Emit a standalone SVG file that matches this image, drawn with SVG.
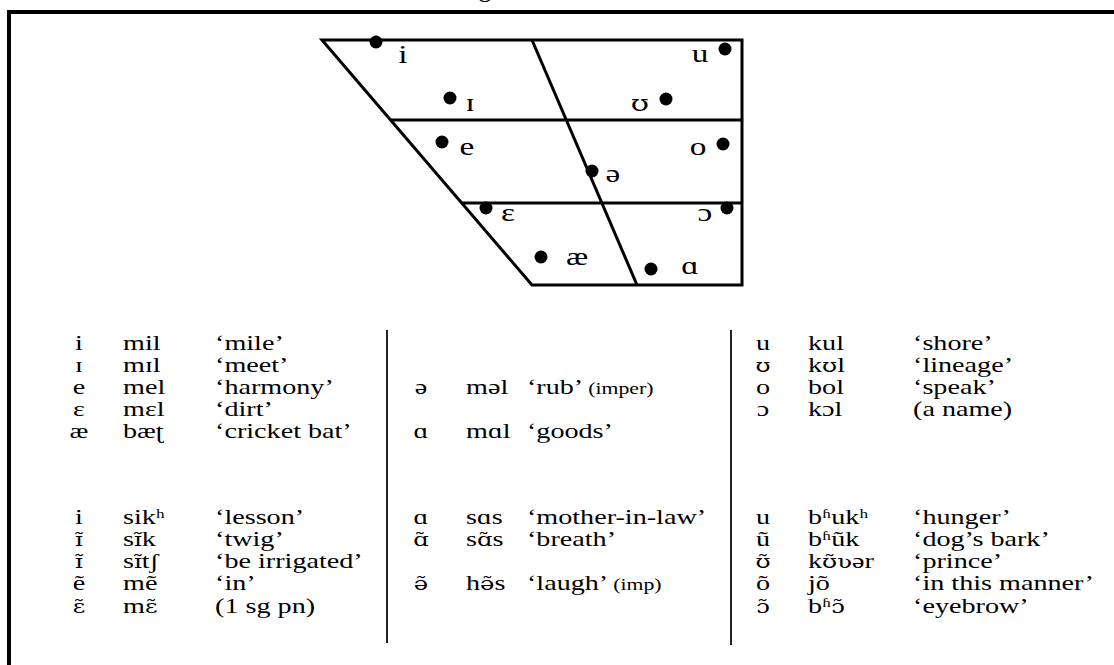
<svg xmlns="http://www.w3.org/2000/svg" width="1114" height="665" viewBox="0 0 1114 665">
<style>
.frame{fill:none;stroke:#000;stroke-width:4}
.chart{fill:none;stroke:#000;stroke-width:3;stroke-linejoin:miter}
.sep{fill:none;stroke:#222;stroke-width:2}
.dot{fill:#000}
text{font-family:"Liberation Serif","DejaVu Serif",serif;fill:#000}
.lab{font-size:26px;text-anchor:middle}
.t{font-size:22px}
.c{text-anchor:middle}
.sm{font-size:17px}
.ipa{font-family:"DejaVu Serif",serif;font-size:19px}
.ipal{font-family:"DejaVu Serif",serif;font-size:23px}
</style>
<rect width="1114" height="665" fill="#fff"/>
<text x="485" y="-3" class="lab">g</text>
<g id="frame">
<path class="frame" d="M9,665 V12 H1114"/>
</g>
<g id="vowel-chart">
<path class="chart" d="M322,40 H742 V285 H532 Z"/>
<path class="chart" d="M532,40 L637,285"/>
<path class="chart" d="M391,120 H742"/>
<path class="chart" d="M462,203 H742"/>
</g>
<g id="chart-dots">
<circle class="dot" cx="376" cy="42" r="6.5"/>
<circle class="dot" cx="725" cy="49" r="6.5"/>
<circle class="dot" cx="450" cy="98" r="6.5"/>
<circle class="dot" cx="666" cy="99" r="6.5"/>
<circle class="dot" cx="442" cy="142" r="6.5"/>
<circle class="dot" cx="723" cy="144" r="6.5"/>
<circle class="dot" cx="592" cy="171" r="6.5"/>
<circle class="dot" cx="486" cy="208" r="6.5"/>
<circle class="dot" cx="727" cy="208" r="6.5"/>
<circle class="dot" cx="541" cy="257" r="6.5"/>
<circle class="dot" cx="651" cy="269" r="6.5"/>
</g>
<g id="chart-labels" transform="scale(1.28 1)">
<text class="lab" x="314.8" y="63">i</text>
<text class="lab" x="546.9" y="62">u</text>
<text class="lab" x="367.2" y="111">ɪ</text>
<text class="lab" x="500" y="111"><tspan class="ipal">ʊ</tspan></text>
<text class="lab" x="364.8" y="155">e</text>
<text class="lab" x="545.3" y="155">o</text>
<text class="lab" x="478.9" y="182">ə</text>
<text class="lab" x="396.9" y="221">ɛ</text>
<text class="lab" x="550.8" y="221">ɔ</text>
<text class="lab" x="450.8" y="265">æ</text>
<text class="lab" x="539.1" y="274">ɑ</text>
</g>
<g id="separators">
<path class="sep" d="M387,330 V643"/>
<path class="sep" d="M731,330 V645"/>
</g>
<g id="table-left" transform="scale(1.28 1)">
<text class="t c" x="61.7" y="350">i</text><text class="t" x="96.1" y="350">mil</text><text class="t" x="168" y="350">‘mile’</text>
<text class="t c" x="61.7" y="372">ɪ</text><text class="t" x="96.1" y="372">mɪl</text><text class="t" x="168" y="372">‘meet’</text>
<text class="t c" x="61.7" y="394">e</text><text class="t" x="96.1" y="394">mel</text><text class="t" x="168" y="394">‘harmony’</text>
<text class="t c" x="61.7" y="416">ɛ</text><text class="t" x="96.1" y="416">mɛl</text><text class="t" x="168" y="416">‘dirt’</text>
<text class="t c" x="61.7" y="438">æ</text><text class="t" x="96.1" y="438">bæʈ</text><text class="t" x="168" y="438">‘cricket bat’</text>
<text class="t c" x="61.7" y="524">i</text><text class="t" x="96.1" y="524">sikʰ</text><text class="t" x="168" y="524">‘lesson’</text>
<text class="t c" x="61.7" y="546"><tspan class="ipa">ɪ̃</tspan></text><text class="t" x="96.1" y="546">s<tspan class="ipa">ɪ̃</tspan>k</text><text class="t" x="168" y="546">‘twig’</text>
<text class="t c" x="61.7" y="568"><tspan class="ipa">ɪ̃</tspan></text><text class="t" x="96.1" y="568">s<tspan class="ipa">ɪ̃</tspan>tʃ</text><text class="t" x="168" y="568">‘be irrigated’</text>
<text class="t c" x="61.7" y="590">ẽ</text><text class="t" x="96.1" y="590">mẽ</text><text class="t" x="168" y="590">‘in’</text>
<text class="t c" x="61.7" y="613"><tspan class="ipa">ɛ̃</tspan></text><text class="t" x="96.1" y="613">m<tspan class="ipa">ɛ̃</tspan></text><text class="t" x="168" y="613">(1 sg pn)</text>
</g>
<g id="table-middle" transform="scale(1.28 1)">
<text class="t c" x="328.9" y="394">ə</text><text class="t" x="364.1" y="394">məl</text><text class="t" x="411.7" y="394">‘rub’ <tspan class="sm">(imper)</tspan></text>
<text class="t c" x="328.9" y="438">ɑ</text><text class="t" x="364.1" y="438">mɑl</text><text class="t" x="411.7" y="438">‘goods’</text>
<text class="t c" x="328.9" y="524">ɑ</text><text class="t" x="364.1" y="524">sɑs</text><text class="t" x="411.7" y="524">‘mother-in-law’</text>
<text class="t c" x="328.9" y="546"><tspan class="ipa">ɑ̃</tspan></text><text class="t" x="364.1" y="546">s<tspan class="ipa">ɑ̃</tspan>s</text><text class="t" x="411.7" y="546">‘breath’</text>
<text class="t c" x="328.9" y="590"><tspan class="ipa">ə̃</tspan></text><text class="t" x="364.1" y="590">h<tspan class="ipa">ə̃</tspan>s</text><text class="t" x="411.7" y="590">‘laugh’ <tspan class="sm">(imp)</tspan></text>
</g>
<g id="table-right" transform="scale(1.28 1)">
<text class="t c" x="596.1" y="350">u</text><text class="t" x="631.3" y="350">kul</text><text class="t" x="713.3" y="350">‘shore’</text>
<text class="t c" x="596.1" y="372"><tspan class="ipa">ʊ</tspan></text><text class="t" x="631.3" y="372">k<tspan class="ipa">ʊ</tspan>l</text><text class="t" x="713.3" y="372">‘lineage’</text>
<text class="t c" x="596.1" y="394">o</text><text class="t" x="631.3" y="394">bol</text><text class="t" x="713.3" y="394">‘speak’</text>
<text class="t c" x="596.1" y="416">ɔ</text><text class="t" x="631.3" y="416">kɔl</text><text class="t" x="713.3" y="416">(a name)</text>
<text class="t c" x="596.1" y="524">u</text><text class="t" x="631.3" y="524">bʱukʰ</text><text class="t" x="713.3" y="524">‘hunger’</text>
<text class="t c" x="596.1" y="546">ũ</text><text class="t" x="631.3" y="546">bʱũk</text><text class="t" x="713.3" y="546">‘dog’s bark’</text>
<text class="t c" x="596.1" y="568"><tspan class="ipa">ʊ̃</tspan></text><text class="t" x="631.3" y="568">k<tspan class="ipa">ʊ̃ʋ</tspan>ər</text><text class="t" x="713.3" y="568">‘prince’</text>
<text class="t c" x="596.1" y="590">õ</text><text class="t" x="631.3" y="590">jõ</text><text class="t" x="713.3" y="590">‘in this manner’</text>
<text class="t c" x="596.1" y="613"><tspan class="ipa">ɔ̃</tspan></text><text class="t" x="631.3" y="613">bʱ<tspan class="ipa">ɔ̃</tspan></text><text class="t" x="713.3" y="613">‘eyebrow’</text>
</g>
</svg>
